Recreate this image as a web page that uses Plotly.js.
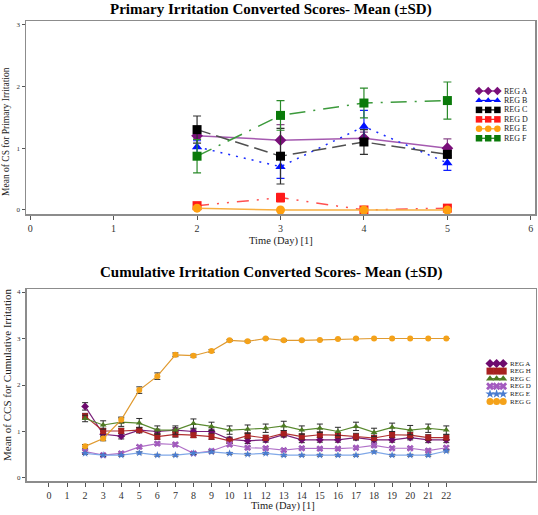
<!DOCTYPE html>
<html><head><meta charset="utf-8">
<script src="https://cdn.plot.ly/plotly-3.0.1.min.js"></script>
<style>html,body{margin:0;padding:0;background:#fff;}#chart{width:538px;height:515px;}</style>
</head><body><div id="chart"></div>
<script>
// ---------- Top chart: Primary Irritation Converted Scores ----------
const primaryDays = [2, 3, 4, 5];
const primaryNames = ["REG A", "REG B", "REG C", "REG D", "REG E", "REG F"];
const primA = [1.20, 1.13, 1.16, 1.00];
const primB = [1.02, 0.70, 1.35, 0.76];
const primC = [1.30, 0.87, 1.10, 0.90];
const primD = [0.07, 0.20, 0.00, 0.03];
const primE = [0.03, 0.00, 0.00, 0.00];
const primF = [0.87, 1.53, 1.73, 1.77];
const primA_sd = [0.05, 0.25, 0.10, 0.15];
const primB_sd = [0.10, 0.19, 0.26, 0.12];
const primC_sd = [0.22, 0.45, 0.20, 0.06];
const primD_sd = [0.03, 0.07, 0.00, 0.02];
const primE_sd = [0.02, 0.00, 0.00, 0.00];
const primF_sd = [0.27, 0.24, 0.24, 0.30];
const primaryXTicks = [0, 1, 2, 3, 4, 5, 6];
const primaryYTicks = [0, 1, 2, 3];

// ---------- Bottom chart: Cumulative Irritation Converted Scores ----------
const cumDays = [2,3,4,5,6,7,8,9,10,11,12,13,14,15,16,17,18,19,20,21,22];
const cumNames = ["REG A", "REG H", "REG C", "REG D", "REG E", "REG G"];
const cumA = [1.54,0.94,0.90,1.03,1.00,1.03,1.00,1.00,0.83,0.80,0.82,0.93,0.82,0.82,0.82,0.87,0.82,0.82,0.87,0.82,0.82];
const cumH = [1.33,1.01,1.01,1.03,0.89,0.94,0.92,0.89,0.80,0.91,0.86,0.96,0.89,0.93,0.92,0.89,0.86,0.93,0.92,0.87,0.87];
const cumC = [1.28,1.14,1.20,1.18,1.03,1.03,1.17,1.11,1.03,1.05,1.07,1.12,1.03,1.07,1.00,1.11,0.98,1.09,1.03,1.07,1.03];
const cumD = [0.57,0.49,0.53,0.67,0.74,0.72,0.53,0.58,0.72,0.65,0.64,0.60,0.64,0.63,0.63,0.65,0.70,0.64,0.64,0.59,0.65];
const cumE = [0.53,0.49,0.49,0.54,0.49,0.49,0.53,0.56,0.53,0.51,0.53,0.49,0.49,0.49,0.49,0.49,0.56,0.49,0.49,0.49,0.58];
const cumG = [0.68,0.85,1.25,1.89,2.19,2.65,2.63,2.73,2.96,2.94,3.00,2.96,2.96,2.97,2.99,3.00,3.00,3.00,3.00,3.00,3.00];
const cumA_sd = [0.08,0.06,0.06,0.05,0.05,0.05,0.05,0.05,0.05,0.06,0.05,0.05,0.06,0.05,0.05,0.05,0.05,0.05,0.05,0.06,0.06];
const cumH_sd = [0.06,0.06,0.06,0.06,0.06,0.06,0.05,0.06,0.06,0.06,0.06,0.06,0.06,0.06,0.06,0.07,0.06,0.06,0.06,0.06,0.06];
const cumC_sd = [0.07,0.09,0.09,0.10,0.09,0.09,0.10,0.09,0.09,0.09,0.09,0.10,0.09,0.09,0.09,0.09,0.09,0.09,0.10,0.09,0.09];
const cumD_sd = [0.03,0.02,0.03,0.03,0.03,0.03,0.02,0.03,0.03,0.03,0.03,0.03,0.03,0.03,0.03,0.03,0.03,0.03,0.03,0.03,0.03];
const cumE_sd = [0.02,0.02,0.02,0.02,0.02,0.02,0.02,0.02,0.02,0.02,0.02,0.02,0.02,0.02,0.02,0.02,0.02,0.02,0.02,0.02,0.02];
const cumG_sd = [0.04,0.05,0.06,0.07,0.07,0.04,0.03,0.03,0.02,0.02,0.01,0.02,0.01,0.01,0.01,0.01,0.00,0.00,0.00,0.00,0.00];
const cumXTicks = [0,1,2,3,4,5,6,7,8,9,10,11,12,13,14,15,16,17,18,19,20,21,22];
const cumYTicks = [0, 1, 2, 3, 4];

// ---------- styles ----------
const W = 538, H = 515;
const px = x => x / W;
const py = y => 1 - y / H;
const SERIF = "Liberation Serif, Times New Roman, serif";

const primaryStyles = [
  {mc: "#7a0f7a", lc: "#a55ab0", sym: "diamond", dash: "solid", ec: "#8a4a8a"},
  {mc: "#0010ff", lc: "#1a2cff", sym: "triangle-up", dash: "2px,6px", ec: "#1020ff"},
  {mc: "#000000", lc: "#505050", sym: "square", dash: "14px,6px", ec: "#303030"},
  {mc: "#ff1a1a", lc: "#ff5050", sym: "square", dash: "12px,8px,2px,8px,2px,8px", ec: "#ff3030"},
  {mc: "#ffa010", lc: "#f8b040", sym: "circle", dash: "solid", ec: "#ffa010"},
  {mc: "#0a7a0a", lc: "#3c9a3c", sym: "square", dash: "16px,8px,2px,8px", ec: "#2a8a2a"}
];
const cumStyles = [
  {mc: "#6e0a6e", lc: "#7a207a", sym: "diamond", size: 6},
  {mc: "#a82020", lc: "#b03030", sym: "square", size: 6},
  {mc: "#4d7a22", lc: "#5a8a30", sym: "triangle-up", size: 6},
  {mc: "#a35bbf", lc: "#b070c8", sym: "x", size: 6},
  {mc: "#4a7cd0", lc: "#80a8e8", sym: "star", size: 6},
  {mc: "#f4a21a", lc: "#e09a30", sym: "circle", size: 6}
];

const primSeries = [primA, primB, primC, primD, primE, primF];
const primSd = [primA_sd, primB_sd, primC_sd, primD_sd, primE_sd, primF_sd];
const cumSeries = [cumA, cumH, cumC, cumD, cumE, cumG];
const cumSd = [cumA_sd, cumH_sd, cumC_sd, cumD_sd, cumE_sd, cumG_sd];

const traces = [];
primSeries.forEach((vals, i) => {
  const s = primaryStyles[i];
  traces.push({
    type: "scatter", mode: "lines+markers", x: primaryDays, y: vals,
    xaxis: "x", yaxis: "y", name: primaryNames[i], showlegend: false,
    line: {color: s.lc, width: 1.5, dash: s.dash},
    marker: {color: s.mc, symbol: s.sym, size: 9},
    error_y: {type: "data", array: primSd[i], visible: true, color: s.ec, thickness: 1.2, width: 4},
    cliponaxis: false
  });
});
cumSeries.forEach((vals, i) => {
  const s = cumStyles[i];
  traces.push({
    type: "scatter", mode: "lines+markers", x: cumDays, y: vals,
    xaxis: "x2", yaxis: "y2", name: cumNames[i], showlegend: false,
    line: {color: s.lc, width: 1.2},
    marker: {color: s.mc, symbol: s.sym, size: s.size},
    error_y: {type: "data", array: cumSd[i], visible: true, color: "#2a2a2a", thickness: 1, width: 3},
    cliponaxis: false
  });
});

// ---------- custom compact legends (pixel overlay axes) ----------
const annotations = [];
function addLegend(names, styles, x0, dx, y0, dy, msize, fsize) {
  names.forEach((nm, i) => {
    const s = styles[i];
    const y = y0 + i * dy;
    traces.push({
      type: "scatter", mode: "lines+markers",
      x: [x0, x0 + dx, x0 + 2 * dx], y: [y, y, y],
      xaxis: "x3", yaxis: "y3", showlegend: false, hoverinfo: "skip",
      line: {color: s.mc, width: 1.2},
      marker: {color: s.mc, symbol: s.sym, size: msize}
    });
    annotations.push({
      xref: "paper", yref: "paper", x: px(x0 + 2 * dx + msize / 2 + 1), y: py(y),
      xanchor: "left", yanchor: "middle", showarrow: false, text: nm,
      font: {family: SERIF, size: fsize, color: "#222"}
    });
  });
}
addLegend(primaryNames, primaryStyles, 479, 9.2, 91, 9.45, 6.5, 8);
addLegend(cumNames, cumStyles, 490, 6.6, 363.5, 7.6, 7, 7);

// ---------- titles ----------
annotations.push(
  {xref: "paper", yref: "paper", x: px(271), y: py(10), xanchor: "center", yanchor: "middle", showarrow: false,
   text: "<b>Primary Irritation Converted Scores- Mean (±SD)</b>", font: {family: SERIF, size: 15, color: "#000"}},
  {xref: "paper", yref: "paper", x: px(271), y: py(272), xanchor: "center", yanchor: "middle", showarrow: false,
   text: "<b>Cumulative Irritation Converted Scores- Mean (±SD)</b>", font: {family: SERIF, size: 15, color: "#000"}},
  {xref: "paper", yref: "paper", x: px(281), y: py(241), xanchor: "center", yanchor: "middle", showarrow: false,
   text: "Time (Day) [1]", font: {family: SERIF, size: 10.5, color: "#222"}},
  {xref: "paper", yref: "paper", x: px(283), y: py(506), xanchor: "center", yanchor: "middle", showarrow: false,
   text: "Time (Day) [1]", font: {family: SERIF, size: 10.5, color: "#222"}},
  {xref: "paper", yref: "paper", x: px(6), y: py(132), xanchor: "center", yanchor: "middle", showarrow: false, textangle: -90,
   text: "Mean of CS for Primary Irritation", font: {family: SERIF, size: 9.5, color: "#222"}},
  {xref: "paper", yref: "paper", x: px(7), y: py(375), xanchor: "center", yanchor: "middle", showarrow: false, textangle: -90,
   text: "Mean of CCS for Cumulative Irritation", font: {family: SERIF, size: 11, color: "#222"}}
);

const axisCommon = {
  showline: true, linecolor: "#8c8c8c", linewidth: 1.5, mirror: true,
  showgrid: false, zeroline: false, ticks: "outside", tickcolor: "#555", tickwidth: 1,
  fixedrange: true
};

const layout = {
  width: W, height: H, margin: {l: 0, r: 0, t: 0, b: 0},
  paper_bgcolor: "#fff", plot_bgcolor: "rgba(0,0,0,0)", showlegend: false,
  xaxis: Object.assign({}, axisCommon, {
    domain: [px(26), px(535)], range: [-0.05, 6.05], anchor: "y",
    tickvals: primaryXTicks, ticktext: primaryXTicks.map(String), ticklen: 4,
    tickfont: {family: SERIF, size: 10, color: "#333"}
  }),
  yaxis: Object.assign({}, axisCommon, {
    domain: [py(214), py(21)], range: [-0.065, 3.057], anchor: "x",
    tickvals: primaryYTicks, ticktext: primaryYTicks.map(String), ticklen: 3,
    tickfont: {family: SERIF, size: 7, color: "#333"}
  }),
  xaxis2: Object.assign({}, axisCommon, {
    domain: [px(26.5), px(535.5)], range: [-1.245, 26.94], anchor: "y2",
    tickvals: cumXTicks, ticktext: cumXTicks.map(String), ticklen: 4,
    tickfont: {family: SERIF, size: 10, color: "#333"}
  }),
  yaxis2: Object.assign({}, axisCommon, {
    domain: [py(481), py(289)], range: [-0.065, 4.065], anchor: "x2",
    tickvals: cumYTicks, ticktext: cumYTicks.map(String), ticklen: 3,
    tickfont: {family: SERIF, size: 7, color: "#333"}
  }),
  xaxis3: {domain: [0, 1], range: [0, W], visible: false, anchor: "y3", fixedrange: true},
  yaxis3: {domain: [0, 1], range: [H, 0], visible: false, anchor: "x3", fixedrange: true},
  annotations: annotations
};

Plotly.newPlot("chart", traces, layout, {staticPlot: true, displayModeBar: false});
</script>
</body></html>
